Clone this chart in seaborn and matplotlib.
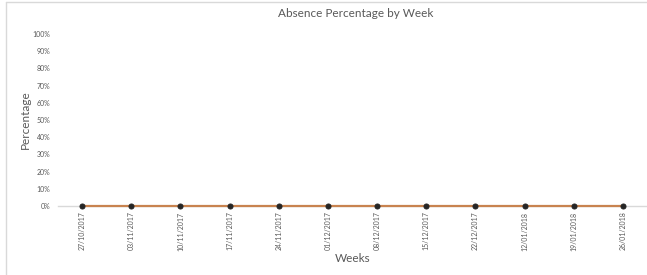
import matplotlib
matplotlib.use("Agg")
import matplotlib.pyplot as plt
from matplotlib.lines import Line2D
from matplotlib.ticker import PercentFormatter
import seaborn as sns
import pandas as pd

# data
weeks = ["27/10/2017", "03/11/2017", "10/11/2017", "17/11/2017", "24/11/2017",
         "01/12/2017", "08/12/2017", "15/12/2017", "22/12/2017", "12/01/2018",
         "19/01/2018", "26/01/2018"]
absence = [0, 0, 0, 0, 0, 0, 0, 0, 0, 0, 0, 0]
y_ticks = [0, 0.1, 0.2, 0.3, 0.4, 0.5, 0.6, 0.7, 0.8, 0.9, 1.0]

df = pd.DataFrame({"week": weeks, "absence": absence})

sns.set_theme(style="white")
plt.rcParams["font.family"] = ["Lato", "DejaVu Sans"]
grey = "#595959"

fig = plt.figure(figsize=(6.47, 2.75), dpi=100)
ax = fig.add_axes([0.0889, 0.251, 0.912, 0.625])

p = sns.lineplot(data=df, x="week", y="absence", ax=ax, color="#C8834F",
                 linewidth=1.6, marker="o", markersize=3.6,
                 markerfacecolor="#262626", markeredgecolor="#262626", zorder=3)
for ln in ax.lines:
    ln.set_clip_on(False)

ax.set_xlim(-0.5, len(weeks) - 0.5)
ax.set_ylim(0, 1)
ax.set_yticks(y_ticks)
ax.yaxis.set_major_formatter(PercentFormatter(1.0, decimals=0))
ax.set_xticks(range(len(weeks)))
ax.set_xticklabels(weeks, rotation=90)
ax.tick_params(axis="both", length=0, colors=grey, labelsize=5)
ax.tick_params(axis="x", pad=4)
ax.tick_params(axis="y", pad=5)

for s in ["top", "right", "left"]:
    ax.spines[s].set_visible(False)
ax.spines["bottom"].set_color("#D9D9D9")
ax.spines["bottom"].set_linewidth(1.0)

ax.set_title("Absence Percentage by Week", color=grey, fontsize=8.5, pad=12, x=0.505)
ax.set_xlabel("Weeks", color=grey, fontsize=8.5, labelpad=2)
ax.set_ylabel("Percentage", color=grey, fontsize=8.5, labelpad=1)

# chart-area border (cropped at right and bottom)
fig.add_artist(Line2D([6 / 647, 6 / 647], [0, 1 - 2 / 275], transform=fig.transFigure,
                      color="#D9D9D9", linewidth=1))
fig.add_artist(Line2D([6 / 647, 1], [1 - 2 / 275, 1 - 2 / 275], transform=fig.transFigure,
                      color="#D9D9D9", linewidth=1))

fig.savefig("out.png", dpi=100)
